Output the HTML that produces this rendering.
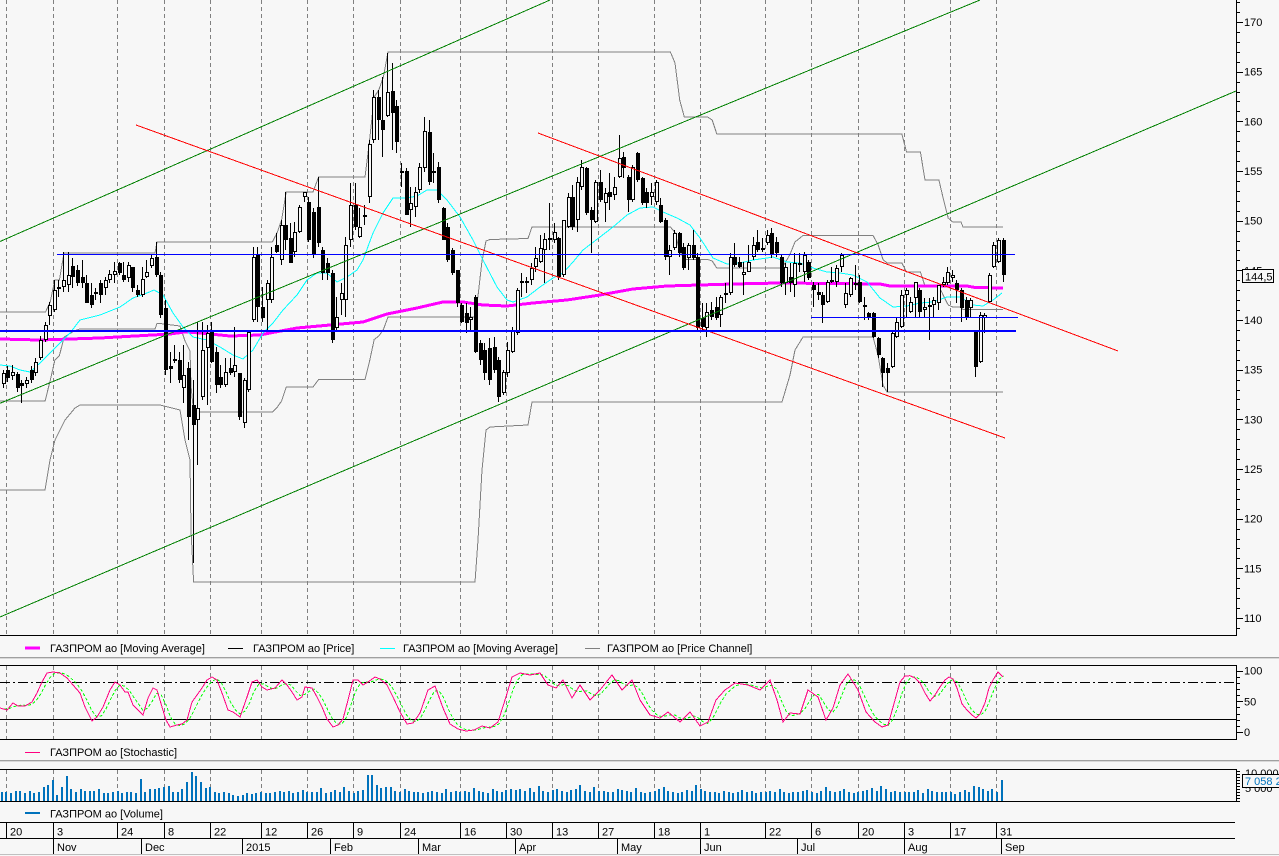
<!DOCTYPE html>
<html><head><meta charset="utf-8"><title>ГАЗПРОМ ао chart</title>
<style>
html,body{margin:0;padding:0;background:#f7f7f7;overflow:hidden}
svg{display:block}
text{font-family:"Liberation Sans",sans-serif;font-size:11px;fill:#000}
</style></head>
<body>
<svg width="1279" height="856" viewBox="0 0 1279 856" xmlns="http://www.w3.org/2000/svg" shape-rendering="crispEdges">
<defs>
<clipPath id="cm"><rect x="0" y="0" width="1236" height="635"/></clipPath>
<clipPath id="cs"><rect x="0" y="666" width="1236" height="73"/></clipPath>
</defs>
<rect width="1279" height="856" fill="#f7f7f7"/>
<g id="grid"></g>
<g clip-path="url(#cm)">
  <g id="chan" fill="none" stroke="#808080"></g>
  <g id="ma" fill="none"></g>
  <g id="cdl"></g>
  <g stroke="#008000" fill="none">
    <line x1="0" y1="241.5" x2="550" y2="0"/>
    <line x1="0" y1="403.3" x2="980" y2="0"/>
    <line x1="0" y1="617" x2="1236" y2="91"/>
  </g>
  <g stroke="#ff0000" fill="none">
    <line x1="136" y1="125" x2="1005" y2="438"/>
    <line x1="538" y1="133" x2="1118" y2="351"/>
  </g>
  <g stroke="#0000ff" fill="none">
    <line x1="57" y1="254.5" x2="1015" y2="254.5"/>
    <line x1="0" y1="331" x2="1016" y2="331" stroke-width="2"/>
    <line x1="811" y1="317.5" x2="1018" y2="317.5"/>
  </g>
</g>
<!-- main panel frame -->
<line x1="0" y1="635.5" x2="1237" y2="635.5" stroke="#000"/>
<line x1="1236.5" y1="0" x2="1236.5" y2="636" stroke="#000"/>
<g id="axt" stroke="#000"></g>
<g>
<text x="1244" y="26">170</text>
<text x="1244" y="75.7">165</text>
<text x="1244" y="125.3">160</text>
<text x="1244" y="175">155</text>
<text x="1244" y="224.7">150</text>
<text x="1244" y="274.3">145</text>
<text x="1244" y="324">140</text>
<text x="1244" y="373.7">135</text>
<text x="1244" y="423.3">130</text>
<text x="1244" y="473">125</text>
<text x="1244" y="522.6">120</text>
<text x="1244" y="572.3">115</text>
<text x="1244" y="622">110</text>
</g>
<rect x="1242.5" y="269.5" width="31" height="13" fill="#f7f7f7" stroke="#000"/>
<text x="1245" y="280.5">144,5</text>

<!-- legend 1 -->
<line x1="25" y1="648" x2="40" y2="648" stroke="#ff00ff" stroke-width="3"/>
<text x="50" y="652">ГАЗПРОМ ао [Moving Average]</text>
<line x1="228" y1="648.5" x2="243" y2="648.5" stroke="#000"/>
<text x="253" y="652">ГАЗПРОМ ао [Price]</text>
<line x1="380" y1="648.5" x2="395" y2="648.5" stroke="#00ffff"/>
<text x="403" y="652">ГАЗПРОМ ао [Moving Average]</text>
<line x1="585" y1="648.5" x2="600" y2="648.5" stroke="#808080"/>
<text x="607" y="652">ГАЗПРОМ ао [Price Channel]</text>
<line x1="0" y1="657.5" x2="1279" y2="657.5" stroke="#a0a0a0"/>
<line x1="0" y1="658.5" x2="1279" y2="658.5" stroke="#d8d8d8"/>

<!-- stochastic panel -->
<g clip-path="url(#cs)">
  <line x1="0" y1="682.5" x2="1236" y2="682.5" stroke="#000" stroke-dasharray="10,3,2,3"/>
  <line x1="0" y1="719.5" x2="1236" y2="719.5" stroke="#000"/>
  <g id="sto" fill="none"></g>
</g>
<line x1="0" y1="665.5" x2="1237" y2="665.5" stroke="#000"/>
<line x1="0" y1="739.5" x2="1237" y2="739.5" stroke="#000"/>
<line x1="1236.5" y1="665" x2="1236.5" y2="740" stroke="#000"/>
<text x="1244" y="674.7">100</text>
<text x="1244" y="705.3">50</text>
<text x="1244" y="736">0</text>
<line x1="25" y1="752.5" x2="40" y2="752.5" stroke="#ff0080"/>
<text x="50" y="756">ГАЗПРОМ ао [Stochastic]</text>
<line x1="0" y1="760.5" x2="1279" y2="760.5" stroke="#a0a0a0"/>
<line x1="0" y1="761.5" x2="1279" y2="761.5" stroke="#d8d8d8"/>

<!-- volume panel -->
<g id="vol"></g>
<line x1="0" y1="769.5" x2="1237" y2="769.5" stroke="#000"/>
<line x1="0" y1="801.5" x2="1237" y2="801.5" stroke="#000"/>
<line x1="1236.5" y1="769" x2="1236.5" y2="802" stroke="#000"/>
<text x="1245" y="777">10 000</text>
<text x="1245" y="792">5 000</text>
<rect x="1242.5" y="774.5" width="50" height="13" fill="#f7f7f7" stroke="#000"/>
<text x="1245" y="785" style="fill:#0072bc">7 058 2</text>
<line x1="25" y1="813" x2="40" y2="813" stroke="#0072bc" stroke-width="2"/>
<text x="50" y="817.5">ГАЗПРОМ ао [Volume]</text>

<!-- date axis -->
<line x1="0" y1="822.5" x2="1235" y2="822.5" stroke="#000"/>
<line x1="0" y1="838.5" x2="1235" y2="838.5" stroke="#000"/>
<line x1="0" y1="854.5" x2="1279" y2="854.5" stroke="#c0c0c0"/>
<g stroke="#000">
<line x1="53.5" y1="838" x2="53.5" y2="854"/>
<line x1="141.5" y1="838" x2="141.5" y2="854"/>
<line x1="242.5" y1="838" x2="242.5" y2="854"/>
<line x1="330.5" y1="838" x2="330.5" y2="854"/>
<line x1="418.5" y1="838" x2="418.5" y2="854"/>
<line x1="515.5" y1="838" x2="515.5" y2="854"/>
<line x1="617.5" y1="838" x2="617.5" y2="854"/>
<line x1="700.5" y1="838" x2="700.5" y2="854"/>
<line x1="797.5" y1="838" x2="797.5" y2="854"/>
<line x1="904.5" y1="838" x2="904.5" y2="854"/>
<line x1="1001.5" y1="838" x2="1001.5" y2="854"/>
</g>
<g>
<text x="10" y="835.5">20</text>
<text x="57" y="835.5">3</text>
<text x="121" y="835.5">24</text>
<text x="168" y="835.5">8</text>
<text x="214" y="835.5">22</text>
<text x="265" y="835.5">12</text>
<text x="311" y="835.5">26</text>
<text x="357" y="835.5">9</text>
<text x="404" y="835.5">24</text>
<text x="464" y="835.5">16</text>
<text x="510" y="835.5">30</text>
<text x="556" y="835.5">13</text>
<text x="602" y="835.5">27</text>
<text x="658" y="835.5">18</text>
<text x="704" y="835.5">1</text>
<text x="769" y="835.5">22</text>
<text x="815" y="835.5">6</text>
<text x="862" y="835.5">20</text>
<text x="908" y="835.5">3</text>
<text x="954" y="835.5">17</text>
<text x="1000" y="835.5">31</text>
<text x="57" y="851">Nov</text>
<text x="145" y="851">Dec</text>
<text x="246" y="851">2015</text>
<text x="334" y="851">Feb</text>
<text x="422" y="851">Mar</text>
<text x="519" y="851">Apr</text>
<text x="621" y="851">May</text>
<text x="704" y="851">Jun</text>
<text x="801" y="851">Jul</text>
<text x="908" y="851">Aug</text>
<text x="1005" y="851">Sep</text>
</g>
</svg>
<script>
(function(){
var GX=[6.5,53.5,117.5,164.5,210.5,261.5,307.5,353.5,400.5,460.5,506.5,552.5,598.5,654.5,700.5,765.5,811.5,858.5,904.5,950.5,996.5];
var s='';
GX.forEach(function(g){
 s+='<line x1="'+g+'" y1="0" x2="'+g+'" y2="635" stroke="#808080" stroke-dasharray="4,3"/>';
 s+='<line x1="'+g+'" y1="666" x2="'+g+'" y2="739" stroke="#808080" stroke-dasharray="4,3"/>';
 s+='<line x1="'+g+'" y1="770" x2="'+g+'" y2="801" stroke="#808080" stroke-dasharray="4,3"/>';
 s+='<line x1="'+g+'" y1="822" x2="'+g+'" y2="838" stroke="#000"/>';
});
document.getElementById('grid').innerHTML=s;

function interp(P,x){
 if(x<=P[0][0])return P[0][1];
 for(var i=1;i<P.length;i++){
  if(x<=P[i][0]){var a=P[i-1],b=P[i];return b[0]==a[0]?b[1]:a[1]+(b[1]-a[1])*(x-a[0])/(b[0]-a[0]);}
 }
 return P[P.length-1][1];
}
function pl(P,attr){return '<polyline points="'+P.map(function(p){return p[0].toFixed(1)+','+p[1].toFixed(1);}).join(' ')+'" '+attr+'/>';}

/* price channel */
var U=[[0,312],[45.5,312],[50.2,302],[54.8,280],[59.4,280],[64,253],[155,253],[157,242],[270,242],[272.3,242],[277,233],[281.6,220],[286.2,192],[313,192],[318.6,177],[365,177],[369.6,140],[374.2,97],[378.8,90],[383.4,77],[388,52],[670.4,52],[675,63],[679.7,100],[684.3,117],[707.6,117],[712.2,120],[716.8,134],[901.9,134],[906.5,152],[920.4,152],[925,180],[938.9,180],[943.6,200],[948.2,218],[952.8,222],[961,222],[963,227],[1003,227]];
var L=[[0,490],[45,490],[50,460],[55,440],[65,420],[75,408],[80,405],[160,405],[180,410],[185,440],[190,460],[191,530],[193.6,582],[475,582],[478,540],[482,470],[486,430],[490,427],[528,425],[532,402],[782,402],[790,375],[795,350],[803,337],[873,337],[878,355],[883,385],[887,392],[1003,392]];
var xs={};U.forEach(function(p){xs[p[0]]=1;});L.forEach(function(p){xs[p[0]]=1;});
var xa=Object.keys(xs).map(Number).sort(function(a,b){return a-b;});
var M=xa.map(function(x){return [x,(interp(U,x)+interp(L,x))/2];});
document.getElementById('chan').innerHTML=pl(U,'')+pl(L,'')+pl(M,'');

/* moving averages */
var MG=[[0,339],[40,340],[100,338],[170,334],[185,332],[200,333],[230,336],[260,335],[270,333],[297,328],[330,325],[363,322],[387,314],[417,308],[443,302],[463,302],[483,305],[507,306],[533,303],[567,300],[600,295],[633,289],[667,286],[700,285],[733,284],[780,283],[880,284],[890,286],[967,286],[975,287.5],[1003,288]];
var CY=[[0,365],[10,366],[20,370],[30,372],[40,363],[50,353],[60,343],[70,333],[80,320],[100,315],[120,307],[133,298],[147,293],[154,290],[163,295],[173,313],[183,327],[193,337],[207,340],[220,347],[233,355],[243,359],[253,350],[263,333],[273,323],[283,310],[297,295],[307,280],[317,273],[327,273],[337,282],[347,277],[357,270],[363,260],[373,233],[383,213],[393,198],[407,198],[417,196],[427,190],[437,190],[447,200],[460,217],[473,240],[483,260],[497,287],[507,300],[513,302],[527,297],[540,287],[553,278],[563,273],[573,262],[583,250],[600,237],[613,227],[627,215],[640,208],[653,207],[663,212],[677,218],[690,225],[700,238],[713,258],[727,264],[740,263],[753,260],[767,258],[773,257],[787,262],[800,263],[813,268],[827,272],[840,273],[853,275],[867,282],[880,298],[893,307],[907,306],[920,303],[933,302],[947,297],[960,297],[973,305],[983,306],[993,300],[1002,293]];
document.getElementById('ma').innerHTML=pl(MG,'stroke="#ff00ff" stroke-width="3"')+pl(CY,'stroke="#00ffff"');

/* candles */
var C=[[373,384,370,388,0],[370,378,366,382,1],[372,376,365,380,0],[374,388,372,392,1],[383,386,380,403,1],[380,384,377,388,0],[370,380,366,383,1],[362,373,358,376,0],[340,358,336,360,0],[325,340,322,342,0],
[305,316,302,325,0],[290,310,280,312,0],[287,289,280,297,0],[280,287,252,292,0],[275,285,252,292,0],[266,277,258,288,1],[270,283,265,286,1],[277,283,260,288,1],[283,303,275,303,1],[295,305,283,308,1],
[292,294,288,300,1],[283,295,280,303,1],[280,288,277,295,0],[274,280,270,283,0],[271,275,262,283,0],[263,273,262,275,1],[275,280,262,282,1],[265,278,262,282,0],[267,288,267,292,1],[290,295,285,297,1],
[279,295,267,297,0],[272,277,260,278,0],[258,266,255,268,0],[257,275,242,277,1],[275,315,272,318,1],[308,370,300,375,1],[366,369,352,383,1],[359,361,345,363,0],[360,380,352,383,1],[375,388,345,403,0],
[368,417,362,440,1],[405,425,380,563,1],[408,420,322,465,0],[350,397,322,400,0],[333,348,325,405,0],[332,362,322,363,1],[352,385,347,393,1],[377,385,365,388,1],[372,385,358,387,0],[368,373,358,375,1],
[365,372,327,377,0],[373,417,373,420,1],[380,423,378,428,0],[332,390,330,392,0],[257,320,247,322,0],[255,307,247,322,1],[307,318,287,322,1],[283,300,280,330,0],[257,300,247,303,0],[245,252,233,253,1],
[225,260,220,265,0],[225,240,192,250,1],[238,263,223,263,1],[232,252,222,257,0],[207,232,205,233,0],[192,197,192,202,0],[202,240,197,242,1],[212,255,208,258,1],[207,243,177,247,1],[250,273,247,280,1],
[263,273,258,280,1],[273,340,270,343,1],[317,328,297,330,0],[293,300,283,315,0],[245,300,237,317,0],[205,240,183,247,0],[205,227,183,230,1],[227,237,208,238,0],[215,217,205,225,0],[144,197,140,203,0],
[97,140,90,143,0],[97,120,90,140,1],[120,130,77,157,1],[92,116,53,117,0],[91,113,63,150,1],[106,142,100,153,1],[171,173,163,187,1],[171,215,168,215,1],[203,210,187,227,0],[192,207,187,217,0],
[167,190,163,193,0],[131,168,117,172,0],[132,182,120,185,1],[171,173,153,183,1],[167,200,162,203,1],[208,240,207,240,1],[227,260,223,262,1],[250,273,248,275,1],[270,303,270,307,1],[305,322,303,323,1],
[313,323,303,333,1],[317,320,307,330,0],[297,352,295,353,1],[343,360,340,365,1],[350,373,343,380,1],[348,380,338,385,1],[347,370,337,373,1],[360,397,357,402,1],[372,393,370,395,0],[350,373,342,377,0],
[330,352,327,353,0],[290,333,288,335,0],[281,283,273,297,0],[281,283,277,293,1],[268,280,263,285,0],[258,267,247,272,0],[248,262,235,263,0],[239,250,233,283,0],[238,240,203,250,0],[232,240,223,243,0],
[238,277,237,280,1],[220,275,220,277,0],[197,227,193,228,0],[197,227,185,230,1],[182,220,177,232,0],[167,187,160,190,0],[168,213,167,215,1],[210,220,207,253,1],[182,222,180,223,0],[182,200,170,202,1],
[193,203,188,222,0],[192,197,173,210,1],[187,195,177,200,0],[158,177,135,178,0],[157,168,152,178,1],[177,200,175,212,1],[167,200,165,202,0],[153,180,152,182,1],[178,203,177,205,1],[192,203,188,208,1],
[192,197,183,205,0],[182,202,180,205,0],[205,222,198,223,1],[220,257,218,260,1],[250,257,245,275,0],[233,248,230,250,0],[233,253,232,257,1],[247,268,243,270,1],[245,258,243,270,0],[245,258,230,260,1],
[257,328,253,330,1],[318,327,303,332,1],[312,328,303,337,0],[310,317,302,320,1],[307,318,297,320,1],[297,315,295,327,0],[293,295,283,303,0],[257,293,253,295,0],[257,265,243,267,1],[262,267,257,268,1],
[272,275,262,295,0],[262,272,245,272,0],[245,257,237,260,0],[242,250,230,252,1],[248,250,238,252,0],[235,243,230,245,0],[233,255,228,258,1],[242,253,237,257,1],[257,283,255,287,1],[267,283,263,295,0],
[277,283,263,292,1],[263,285,253,297,0],[263,265,253,272,0],[255,272,252,282,0],[262,278,260,280,1],[285,290,282,307,1],[292,295,283,300,1],[295,305,292,323,1],[282,302,280,303,0],[280,282,267,283,0],
[268,282,265,287,0],[255,267,253,272,0],[293,305,283,308,0],[278,295,277,297,0],[283,285,265,290,1],[282,302,275,303,1],[305,307,297,320,1],[313,318,312,320,1],[313,337,312,338,1],[338,355,337,358,1],
[358,373,357,387,1],[368,373,363,392,1],[333,367,332,368,0],[322,337,317,338,0],[295,327,290,328,0],[290,295,288,318,0],[302,312,297,313,0],[282,298,282,318,0],[290,312,288,317,1],[307,310,298,317,0],
[305,307,298,340,0],[300,305,297,318,0],[285,303,285,310,0],[282,285,277,287,0],[272,283,267,285,0],[275,278,270,282,0],[283,290,280,303,1],[290,308,288,322,1],[300,318,297,320,1],[300,308,298,318,0],
[332,367,330,377,1],[315,362,312,363,0],[315,318,313,333,0],[275,302,273,303,0],[245,267,242,268,0],[240,262,238,263,0],[240,275,238,282,1]];
function xk(k){return 3.86+4.629*k;}
s='';
C.forEach(function(c,k){
 var cx=Math.round(xk(k)),t=c[0],b=c[1],h=c[2],l=c[3],bl=c[4];
 s+='<line x1="'+(cx-0.5)+'" y1="'+h+'" x2="'+(cx-0.5)+'" y2="'+l+'" stroke="#000"/>';
 if(b-t<=2){
  s+='<rect x="'+(cx-2)+'" y="'+t+'" width="4" height="'+Math.max(1,b-t)+'" fill="#000"/>';
 }else if(bl){
  s+='<rect x="'+(cx-2)+'" y="'+t+'" width="4" height="'+(b-t)+'" fill="#000"/>';
 }else{
  s+='<rect x="'+(cx-1.5)+'" y="'+(t+0.5)+'" width="3" height="'+(b-t-1)+'" fill="#f7f7f7" stroke="#000"/>';
 }
});
document.getElementById('cdl').innerHTML=s;

/* stochastic */
var K=[[0,708],[7,710],[13,703],[18,706],[25,706],[32,702],[37,693],[42,682],[47,673],[53,672],[60,673],[67,678],[73,685],[80,693],[85,707],[92,721],[97,717],[103,707],[110,690],[115,682],[120,685],[125,692],[128,692],[133,705],[138,710],[143,715],[148,698],[153,688],[157,690],[162,707],[166,720],[170,727],[177,725],[182,724],[187,720],[192,702],[197,695],[202,688],[207,680],[212,677],[217,680],[222,693],[228,710],[233,712],[240,717],[247,697],[252,682],[257,680],[262,687],[267,690],[275,688],[282,680],[287,685],[292,692],[297,700],[302,697],[305,687],[312,688],[317,697],[322,707],[327,719],[333,727],[338,725],[343,719],[348,700],[353,680],[358,680],[363,685],[368,682],[375,677],[380,679],[387,685],[393,697],[400,712],[407,724],[413,723],[420,713],[428,690],[435,686],[443,708],[450,724],[458,729],[466,731],[474,730],[482,726],[490,728],[498,722],[505,700],[512,677],[520,673],[530,675],[540,673],[548,685],[556,688],[563,680],[572,698],[580,685],[590,700],[600,690],[612,675],[622,690],[632,680],[640,700],[650,715],[660,718],[668,712],[680,722],[690,712],[700,726],[708,722],[716,700],[725,690],[735,683],[748,685],[760,690],[770,680],[777,700],[783,722],[790,713],[800,714],[808,690],[818,697],[826,720],[833,708],[840,685],[848,674],[858,690],[866,712],[875,722],[882,727],[888,725],[895,700],[900,682],[905,676],[910,675.7],[915,678],[920,683],[925,693],[930,701],[935,695],[940,687],[945,680],[949,677],[953,679],[957,688],[962,704],[967,710],[972,715],[976,718],[980,714],[985,703],[989,688],[993,680],[998,672],[1003,677]];
var D=[],kv=[];
for(var k=0;k<C.length;k++){kv.push(interp(K,xk(k)));}
for(k=0;k<C.length;k++){var a=kv[Math.max(0,k-2)],b=kv[Math.max(0,k-1)],c=kv[k];D.push([xk(k),(a+b+c)/3]);}
document.getElementById('sto').innerHTML=pl(D,'stroke="#00ff00" stroke-dasharray="3,2"')+pl(K,'stroke="#ff0080"');

/* volume */
var V=[9,9,8,10,10,8,10,8,9,14,16,21,6,14,25,12,9,12,10,10,10,12,8,8,9,10,8,9,9,8,22,9,12,12,13,14,15,9,9,12,19,29,25,19,13,14,9,8,9,8,6,5,6,8,7,8,9,8,8,9,10,9,10,8,9,11,9,9,9,13,8,9,11,9,14,10,8,10,11,26,26,16,13,14,14,10,9,12,10,9,
9,8,9,10,9,8,12,9,10,9,10,9,13,10,9,8,12,10,9,11,12,11,12,10,13,9,15,10,9,11,12,10,9,11,12,16,10,9,14,10,10,9,9,12,11,10,9,13,9,8,9,10,12,14,10,9,8,9,11,10,16,12,10,9,9,8,10,9,8,9,11,9,10,8,9,9,10,9,12,9,8,9,9,10,11,9,8,10,14,10,9,10,12,9,8,9,10,11,13,10,15,12,9,10,9,
9,9,9,11,8,12,10,9,9,9,9,7,9,11,9,15,14,12,10,12,9,21];
s='';
V.forEach(function(h,k){
 var x=Math.round(xk(k))-3;
 s+='<rect x="'+x+'" y="'+(801-h)+'" width="2" height="'+h+'" fill="#0072bc"/>';
});
document.getElementById('vol').innerHTML=s;

/* axis ticks */
s='';
for(var v=109;v<=172;v++){
 var y=Math.round(22+(170-v)*9.933)+0.5, len=(v%5==0)?6:3;
 s+='<line x1="1236" y1="'+y+'" x2="'+(1237+len)+'" y2="'+y+'"/>';
}
for(v=0;v<=100;v+=10){
 var y2=Math.round(732-v*0.613)+0.5, l2=(v%50==0)?6:3;
 s+='<line x1="1236" y1="'+y2+'" x2="'+(1237+l2)+'" y2="'+y2+'"/>';
}
for(var i=0;i<=10;i++){
 var y3=801-3*i+0.5;
 s+='<line x1="1236" y1="'+y3+'" x2="1240" y2="'+y3+'"/>';
}
document.getElementById('axt').innerHTML=s;
})();
</script>
</body></html>
